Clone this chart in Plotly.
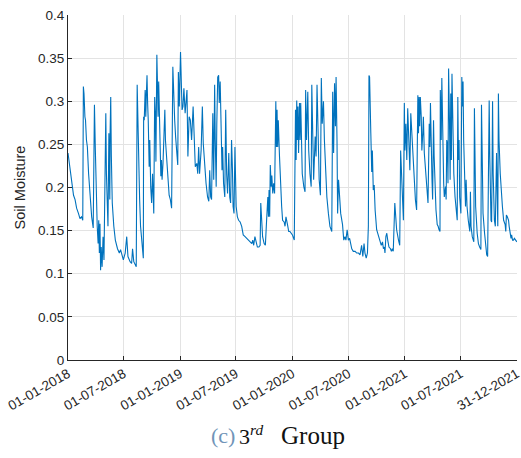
import pandas as pd
import plotly.graph_objects as go

# Daily soil moisture record, stored as (days since 01-01-2018, value) pairs
start_date = "2018-01-01"

day_index = [
    # 2018
    0, 4, 10, 15, 18, 23, 28, 34, 39, 44, 48, 50, 52, 55, 57, 60, 63, 67, 72, 77,
    82, 86, 89, 92, 95, 98, 100, 102, 104, 106, 108, 111, 114, 117, 123, 125, 127, 130, 133, 136,
    137, 139, 141, 144, 149, 154, 161, 167, 171, 176, 180, 186, 191, 195, 202, 207, 210, 214, 219, 222,
    225, 227, 230, 233, 236, 240, 243, 245, 246, 248, 251, 253, 255, 257, 259, 261, 264, 266, 269, 272,
    275, 279, 282, 284, 286, 289, 291, 293, 295, 298, 302, 304, 306, 309, 312, 315, 317, 320, 324, 329,
    333, 337, 341, 344, 347, 350, 354, 357, 359, 362,
    # 2019
    366, 368, 371, 374, 377, 381, 384, 387, 390, 394, 398, 402, 407, 410, 414, 419, 422, 425, 428, 433,
    437, 440, 445, 449, 454, 458, 461, 464, 467, 471, 474, 477, 479, 482, 484, 487, 490, 492, 495, 498,
    501, 503, 506, 510, 513, 516, 519, 523, 526, 529, 532, 535, 537, 540, 543, 547, 551, 555, 560, 565,
    570, 576, 581, 587, 592, 598, 601, 604, 608, 612, 616, 621, 625, 627, 630, 633, 638, 642, 646, 650,
    652, 654, 656, 658, 661, 663, 666, 669, 672, 676, 678, 680, 682, 684, 688, 691, 695, 698, 703, 706,
    709, 714, 718, 722, 726,
    # 2020
    730, 734, 736, 740, 742, 744, 746, 748, 750, 753, 755, 757, 759, 762, 767, 771, 773, 776, 780, 783,
    787, 791, 793, 796, 799, 804, 807, 810, 813, 817, 821, 824, 827, 831, 834, 837, 842, 847, 852, 858,
    861, 864, 867, 870, 872, 875, 877, 880, 883, 887, 893, 897, 901, 904, 908, 912, 916, 920, 923, 928,
    934, 939, 945, 950, 955, 959, 963, 966, 970, 974, 977, 979, 981, 985, 988, 990, 993, 996, 999, 1004,
    1010, 1015, 1019, 1023, 1026, 1029, 1031, 1034, 1037, 1040, 1044, 1049, 1052, 1055, 1058, 1063, 1066, 1069, 1075, 1079,
    1082, 1086, 1089, 1091,
    # 2021
    1094, 1096, 1099, 1102, 1105, 1108, 1112, 1115, 1118, 1121, 1126, 1130, 1134, 1138, 1140, 1142, 1144, 1146, 1149, 1151,
    1154, 1156, 1159, 1163, 1167, 1171, 1175, 1177, 1179, 1181, 1184, 1186, 1189, 1191, 1194, 1197, 1201, 1204, 1207, 1210,
    1211, 1214, 1216, 1219, 1222, 1224, 1228, 1230, 1232, 1234, 1236, 1238, 1241, 1243, 1245, 1247, 1249, 1251, 1255, 1259,
    1262, 1266, 1268, 1270, 1272, 1274, 1278, 1281, 1283, 1285, 1287, 1291, 1293, 1295, 1298, 1302, 1307, 1309, 1311, 1315,
    1320, 1322, 1324, 1326, 1331, 1335, 1339, 1343, 1345, 1347, 1350, 1355, 1359, 1362, 1365, 1368, 1370, 1372, 1374, 1376,
    1378, 1381, 1383, 1385, 1387, 1390, 1394, 1396, 1398, 1400, 1402, 1406, 1409, 1413, 1417, 1422, 1424, 1426, 1429, 1433,
    1435, 1438, 1441, 1443, 1446, 1449, 1452, 1456, 1460,
]

soil_moisture = [
    # 2018
    0.240, 0.228, 0.216, 0.201, 0.191, 0.186, 0.176, 0.170, 0.164, 0.166, 0.162, 0.317, 0.309, 0.282, 0.278, 0.255, 0.247, 0.216, 0.189, 0.166,
    0.153, 0.296, 0.243, 0.186, 0.155, 0.135, 0.162, 0.124, 0.158, 0.104, 0.131, 0.108, 0.143, 0.116, 0.286, 0.216, 0.170, 0.155, 0.263, 0.186,
    0.263, 0.305, 0.236, 0.182, 0.155, 0.139, 0.129, 0.124, 0.128, 0.120, 0.116, 0.124, 0.143, 0.120, 0.114, 0.112, 0.129, 0.114, 0.110, 0.108,
    0.319, 0.274, 0.224, 0.186, 0.155, 0.135, 0.122, 0.118, 0.282, 0.278, 0.313, 0.282, 0.309, 0.330, 0.298, 0.278, 0.224, 0.255, 0.201, 0.182,
    0.216, 0.170, 0.305, 0.286, 0.230, 0.354, 0.321, 0.282, 0.323, 0.278, 0.213, 0.232, 0.209, 0.228, 0.261, 0.290, 0.255, 0.240, 0.216, 0.191,
    0.186, 0.176, 0.340, 0.294, 0.278, 0.259, 0.243, 0.226, 0.334, 0.294,
    # 2019
    0.357, 0.317, 0.290, 0.294, 0.315, 0.286, 0.298, 0.313, 0.236, 0.282, 0.278, 0.255, 0.294, 0.271, 0.224, 0.228, 0.216, 0.247, 0.216, 0.243,
    0.294, 0.251, 0.220, 0.205, 0.189, 0.184, 0.220, 0.189, 0.186, 0.286, 0.209, 0.319, 0.255, 0.201, 0.274, 0.328, 0.330, 0.298, 0.323, 0.243,
    0.220, 0.247, 0.205, 0.189, 0.290, 0.216, 0.193, 0.240, 0.189, 0.182, 0.255, 0.220, 0.178, 0.170, 0.247, 0.178, 0.166, 0.162, 0.160, 0.155,
    0.145, 0.143, 0.141, 0.139, 0.137, 0.135, 0.139, 0.133, 0.143, 0.135, 0.131, 0.131, 0.133, 0.182, 0.162, 0.143, 0.135, 0.133, 0.162, 0.189,
    0.166, 0.197, 0.166, 0.226, 0.201, 0.214, 0.193, 0.205, 0.193, 0.300, 0.247, 0.290, 0.247, 0.278, 0.236, 0.201, 0.178, 0.162, 0.160, 0.155,
    0.166, 0.157, 0.149, 0.149, 0.147,
    # 2020
    0.145, 0.141, 0.139, 0.290, 0.232, 0.301, 0.255, 0.294, 0.240, 0.298, 0.255, 0.298, 0.243, 0.216, 0.201, 0.195, 0.313, 0.255, 0.311, 0.243,
    0.216, 0.201, 0.319, 0.243, 0.209, 0.259, 0.236, 0.319, 0.255, 0.209, 0.191, 0.327, 0.274, 0.300, 0.255, 0.220, 0.189, 0.170, 0.155, 0.149,
    0.311, 0.240, 0.321, 0.271, 0.328, 0.255, 0.170, 0.209, 0.189, 0.170, 0.157, 0.139, 0.143, 0.139, 0.151, 0.139, 0.141, 0.135, 0.129, 0.126,
    0.126, 0.124, 0.124, 0.122, 0.133, 0.120, 0.135, 0.124, 0.118, 0.124, 0.155, 0.330, 0.328, 0.263, 0.218, 0.243, 0.197, 0.203, 0.174, 0.151,
    0.143, 0.137, 0.133, 0.137, 0.129, 0.131, 0.124, 0.143, 0.147, 0.139, 0.131, 0.129, 0.126, 0.129, 0.126, 0.182, 0.162, 0.151, 0.139, 0.133,
    0.243, 0.209, 0.174, 0.162,
    # 2021
    0.298, 0.243, 0.274, 0.232, 0.292, 0.255, 0.220, 0.286, 0.267, 0.236, 0.205, 0.186, 0.174, 0.307, 0.263, 0.305, 0.271, 0.305, 0.282, 0.243,
    0.263, 0.282, 0.240, 0.216, 0.193, 0.182, 0.274, 0.247, 0.298, 0.247, 0.209, 0.186, 0.278, 0.236, 0.197, 0.174, 0.157, 0.155, 0.151, 0.149,
    0.313, 0.255, 0.327, 0.236, 0.205, 0.189, 0.201, 0.186, 0.255, 0.251, 0.205, 0.338, 0.274, 0.209, 0.309, 0.232, 0.332, 0.274, 0.216, 0.189,
    0.174, 0.162, 0.305, 0.232, 0.255, 0.189, 0.170, 0.328, 0.294, 0.323, 0.255, 0.201, 0.178, 0.209, 0.178, 0.162, 0.149, 0.195, 0.155, 0.143,
    0.137, 0.292, 0.216, 0.178, 0.147, 0.135, 0.131, 0.128, 0.296, 0.216, 0.170, 0.147, 0.131, 0.122, 0.120, 0.259, 0.301, 0.236, 0.193, 0.162,
    0.160, 0.300, 0.216, 0.178, 0.162, 0.155, 0.240, 0.197, 0.155, 0.309, 0.255, 0.216, 0.193, 0.178, 0.162, 0.157, 0.149, 0.168, 0.166, 0.162,
    0.155, 0.147, 0.141, 0.145, 0.139, 0.139, 0.141, 0.139, 0.137,
]

tick_dates = ["2018-01-01", "2018-07-01", "2019-01-01", "2019-07-01", "2020-01-01",
              "2020-07-01", "2021-01-01", "2021-07-01", "2021-12-31"]
tick_labels = ["01-01-2018", "01-07-2018", "01-01-2019", "01-07-2019", "01-01-2020",
               "01-07-2020", "01-01-2021", "01-07-2021", "31-12-2021"]
y_ticks = [0, 0.05, 0.1, 0.15, 0.2, 0.25, 0.3, 0.35, 0.4]
y_labels = ["0", "0.05", "0.1", "0.15", "0.2", "0.25", "0.3", "0.35", "0.4"]

dates = pd.Timestamp(start_date) + pd.to_timedelta(day_index, unit="D")

W, H = 521, 458
L, R, T, B = 68, 4, 15, 98
plot_w = W - L - R
plot_h = H - T - B


def px_x(px):
    return (px - L) / plot_w


def px_y(py):
    return (H - B - py) / plot_h


fig = go.Figure()
fig.add_trace(go.Scatter(
    x=dates, y=soil_moisture, mode="lines",
    line=dict(color="#0072BD", width=1.1),
    showlegend=False, hoverinfo="skip",
))

axis_font = dict(family="Liberation Sans, Arial, sans-serif", size=13.5, color="#262626")
grid_col = "#e3e3e3"

# pad the right limit slightly so the closing 31-12-2021 tick is kept
x_end = (pd.Timestamp(tick_dates[-1]) + pd.Timedelta(hours=12)).strftime("%Y-%m-%d %H:%M")

fig.update_xaxes(
    range=[tick_dates[0], x_end], automargin=False,
    tickmode="array", tickvals=tick_dates, ticktext=tick_labels,
    tickangle=-30, tickfont=axis_font, ticklabeloverflow="allow",
    showgrid=True, gridcolor=grid_col, gridwidth=1,
    showline=True, linecolor="#262626", linewidth=1,
    ticks="inside", ticklen=4, tickcolor="#262626",
    zeroline=False, mirror=False,
)
fig.update_yaxes(
    range=[0, 0.4], automargin=False,
    tickmode="array", tickvals=y_ticks, ticktext=y_labels,
    tickfont=axis_font,
    showgrid=True, gridcolor=grid_col, gridwidth=1,
    showline=True, linecolor="#262626", linewidth=1,
    ticks="inside", ticklen=4, tickcolor="#262626",
    zeroline=False, mirror=False,
    title=dict(text="Soil Moisture", standoff=8,
               font=dict(family="Liberation Sans, Arial, sans-serif", size=14.5, color="#262626")),
)

serif = "Liberation Serif, Times New Roman, serif"
cap_y = px_y(435)
fig.add_annotation(x=px_x(209), y=cap_y, xref="paper", yref="paper",
                   xanchor="left", yanchor="middle", showarrow=False,
                   text="(c)", font=dict(family=serif, size=22, color="#7094b8"))
fig.add_annotation(x=px_x(237), y=cap_y, xref="paper", yref="paper",
                   xanchor="left", yanchor="middle", showarrow=False,
                   text="3<sup><i>rd</i></sup>", font=dict(family=serif, size=22, color="#111111"))
fig.add_annotation(x=px_x(279), y=cap_y, xref="paper", yref="paper",
                   xanchor="left", yanchor="middle", showarrow=False,
                   text="Group", font=dict(family=serif, size=25, color="#111111"))

fig.update_layout(
    width=W, height=H,
    margin=dict(l=L, r=R, t=T, b=B, pad=0),
    paper_bgcolor="white", plot_bgcolor="white",
)

fig.write_html("out.html")
